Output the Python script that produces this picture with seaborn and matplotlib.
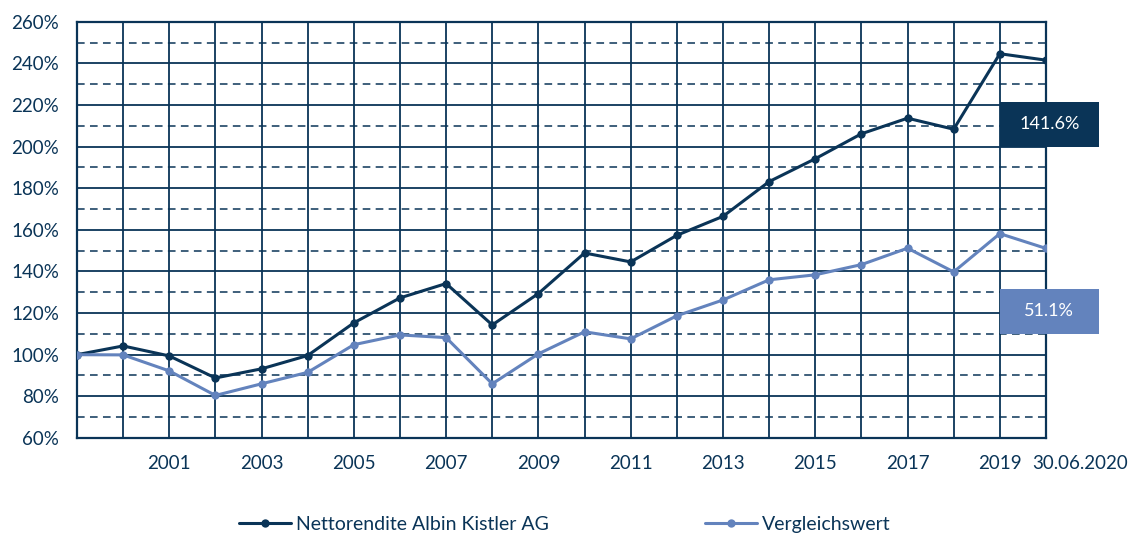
import pandas as pd
import matplotlib.pyplot as plt
import seaborn as sns
from matplotlib.patches import Rectangle
from matplotlib.ticker import MultipleLocator, FuncFormatter

periods = [str(y) for y in range(1999, 2020)] + ["30.06.2020"]
albin = [100.0, 104.2, 99.4, 88.8, 93.2, 99.6, 115.3, 127.3, 134.2, 114.3, 129.4,
         148.9, 144.6, 157.4, 166.5, 183.2, 194.2, 206.2, 213.7, 208.4, 244.7, 241.6]
vergleich = [100.0, 99.9, 92.2, 80.4, 86.0, 91.5, 104.8, 109.5, 108.2, 86.0, 100.4,
             111.0, 107.6, 118.7, 126.3, 136.0, 138.4, 143.3, 151.2, 139.8, 158.2, 151.1]
series_names = ["Nettorendite Albin Kistler AG", "Vergleichswert"]
end_labels = ["141.6%", "51.1%"]

dark = "#0a3457"
light = "#6383bd"

df = pd.DataFrame({
    "Periode": periods * 2,
    "Wert": albin + vergleich,
    "Serie": [series_names[0]] * len(periods) + [series_names[1]] * len(periods),
})

sns.set_style("white")
plt.rcParams["font.family"] = ["Lato", "DejaVu Sans"]

fig = plt.figure(figsize=(11.32, 5.34), dpi=100)
ax = fig.add_axes([0.068, 0.180, 0.856, 0.779])

sns.lineplot(data=df, x="Periode", y="Wert", hue="Serie", palette=[dark, light],
             marker="o", markersize=6, markeredgewidth=0, linewidth=2.2,
             sort=False, ax=ax, legend=True, zorder=5)

ax.set_xlim(0, len(periods) - 1)
ax.set_ylim(60, 260)
ax.set_xticks(range(len(periods)))
xlabels = [p if (i % 2 == 0 and 0 < i < len(periods) - 1) else "" for i, p in enumerate(periods)]
ax.set_xticklabels(xlabels)
# last period label sits slightly to the right of its gridline
ax.annotate(periods[-1], xy=(len(periods) - 1, 0), xycoords=("data", "axes fraction"),
            xytext=(-10, -12), textcoords="offset points", ha="left", va="top",
            fontsize=13.5, color=dark, annotation_clip=False)

ax.yaxis.set_major_locator(MultipleLocator(20))
ax.yaxis.set_minor_locator(MultipleLocator(10))
ax.yaxis.set_major_formatter(FuncFormatter(lambda v, p: f"{v:.0f}%"))

ax.grid(axis="x", which="major", color=dark, linewidth=1.3)
ax.grid(axis="y", which="major", color=dark, linewidth=1.3)
ax.grid(axis="y", which="minor", color=dark, linewidth=1.1, linestyle=(0, (5, 3.5)))
ax.set_axisbelow(True)
for s in ax.spines.values():
    s.set_color(dark)
    s.set_linewidth(1.6)

ax.tick_params(axis="both", which="both", length=0, labelsize=13.5, labelcolor=dark)
ax.tick_params(axis="y", pad=13)
ax.tick_params(axis="x", pad=12)
ax.set_xlabel("")
ax.set_ylabel("")

# end value boxes
box_w = 99 / (ax.get_position().width * 1132 / (len(periods) - 1))
for (y0, y1), txt, col in [((199.9, 221.5), end_labels[0], dark), ((110.0, 131.6), end_labels[1], light)]:
    ax.add_patch(Rectangle((20, y0), box_w, y1 - y0, facecolor=col, edgecolor="none",
                           clip_on=False, zorder=6))
    ax.text(20 + box_w / 2, (y0 + y1) / 2, txt, color="white", fontsize=13,
            ha="center", va="center", zorder=7, clip_on=False)

handles, labels = ax.get_legend_handles_labels()
ax.get_legend().remove()
fig.legend(handles, labels, loc="center", bbox_to_anchor=(0.499, 0.018), ncol=2,
           frameon=False, fontsize=14, handlelength=2.7, columnspacing=8.0,
           handletextpad=0.25, labelcolor=dark)

fig.savefig("out.png", dpi=100)
